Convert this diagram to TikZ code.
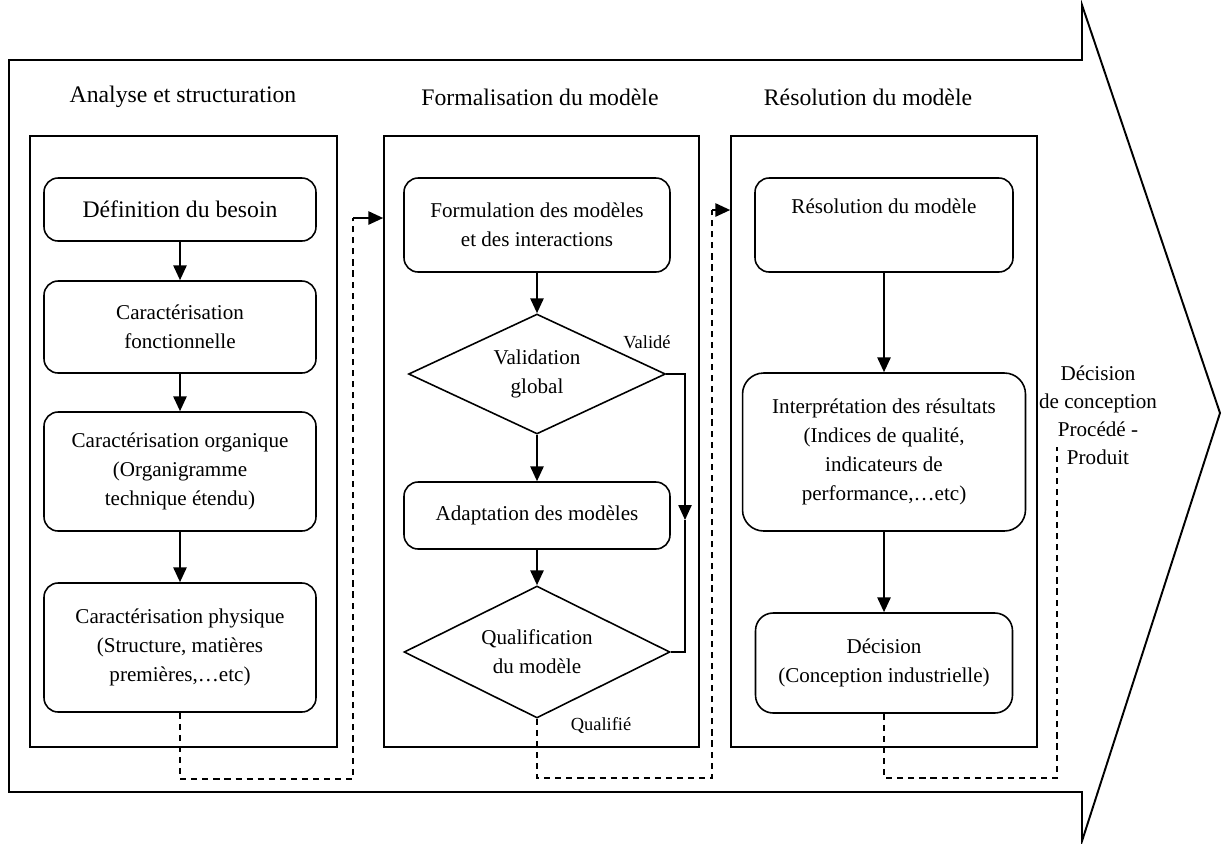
\documentclass[tikz,border=0pt]{standalone}
\usepackage{fontspec}
\setmainfont{Liberation Serif}
\usetikzlibrary{arrows.meta,shapes.geometric}

\begin{document}
\begin{tikzpicture}[x=0.02cm, y=-0.02cm,
    box/.style={draw, rounded corners=8pt, line width=0.9pt, align=center, inner sep=2pt,
      font=\fontsize{12}{16.5}\selectfont},
    choice/.style={draw, diamond, aspect=2, line width=0.9pt, align=center, inner sep=0pt,
      font=\fontsize{12}{16.5}\selectfont},
    panel/.style={draw, line width=0.9pt, minimum width=#1, minimum height=12.22cm},
    title/.style={font=\fontsize{13.5}{16}\selectfont},
    flow/.style={-{Triangle[length=8.5pt,width=7.5pt]}, line width=1.3pt},
    link/.style={dash pattern=on 3.5pt off 2.8pt, line width=0.8pt}]
  \useasboundingbox (0,0) rectangle (1222,843);
  % grande fleche
  \draw[line width=1.1pt] (9,60) -- (1082,60) -- (1082,5) -- (1220,413) -- (1082,841)
    -- (1082,792) -- (9,792) -- cycle;
  % les trois phases
  \node[panel=6.14cm] (p1) at (183.5,441.5) {};
  \node[panel=6.3cm] (p2) at (541.5,441.5) {};
  \node[panel=6.12cm] (p3) at (884,441.5) {};
  \node[title] (t1) at (183,97) {Analyse et structuration};
  \node[title] (t2) at (540,97) {Formalisation du modèle};
  \node[title] (t3) at (868,97) {Résolution du modèle};

  % phase 1
  \node[box, minimum width=5.44cm, minimum height=1.26cm, font=\fontsize{13.5}{16}\selectfont]
    (def) at (180,209.5) {Définition du besoin};
  \node[box, minimum width=5.44cm, minimum height=1.84cm] (fonc) at (180,327)
    {Caractérisation\\fonctionnelle};
  \node[box, minimum width=5.44cm, minimum height=2.38cm] (orga) at (180,471.5)
    {Caractérisation organique\\(Organigramme\\technique étendu)};
  \node[box, minimum width=5.44cm, minimum height=2.58cm] (phys) at (180,647.5)
    {Caractérisation physique\\(Structure, matières\\premières,\dots etc)};
  \draw[flow] (def) -- (fonc);
  \draw[flow] (fonc) -- (orga);
  \draw[flow] (orga) -- (phys);

  % phase 2
  \node[box, minimum width=5.32cm, minimum height=1.88cm] (form) at (537,225)
    {Formulation des modèles\\et des interactions};
  \node[choice, minimum width=5.14cm, minimum height=2.4cm] (valid) at (537,374)
    {Validation\\global};
  \node[box, minimum width=5.32cm, minimum height=1.34cm] (adapt) at (537,515.5)
    {Adaptation des modèles};
  \node[choice, minimum width=5.32cm, minimum height=2.64cm] (qual) at (537,652)
    {Qualification\\du modèle};
  \draw[flow] (form) -- (valid);
  \draw[flow] (valid) -- (adapt);
  \draw[flow] (adapt) -- (qual);
  \coordinate (fb) at (685,520);
  \draw[flow, line width=0.9pt] (valid.east) -| (fb);
  \draw[line width=0.9pt] (fb) |- (qual.east);
  \node[font=\fontsize{10.5}{12}\selectfont] (ok1) at (647,342) {Validé};
  \node[font=\fontsize{10.5}{12}\selectfont] (ok2) at (601,725) {Qualifié};

  % phase 3
  \node[box, minimum width=5.16cm, minimum height=1.88cm] (reso) at (884,225)
    {Résolution du modèle\\\strut};
  \node[box, rounded corners=12pt, minimum width=5.66cm, minimum height=3.16cm] (interp)
    at (884,452) {Interprétation des résultats\\(Indices de qualité,\\indicateurs de\\performance,\dots etc)};
  \node[box, rounded corners=10pt, minimum width=5.14cm, minimum height=2cm] (dec)
    at (884,663) {Décision\\(Conception industrielle)};
  \draw[flow] (reso) -- (interp);
  \draw[flow] (interp) -- (dec);
  \node[align=center, font=\fontsize{12}{16}\selectfont] (dcp) at (1098,415)
    {Décision\\de conception\\Procédé -\\Produit};

  % liaisons entre phases
  \coordinate (j1) at (353,218);
  \coordinate (j2) at (712,210);
  \coordinate (j3) at (1057,447);
  \draw[link] (phys.south) |- (353,779) -- (j1);
  \draw[flow] (j1) -- (j1 -| p2.west);
  \draw[link] (qual.south) |- (712,778) -- (j2);
  \draw[flow] (j2) -- (j2 -| p3.west);
  \draw[link] (dec.south) |- (1057,778) -- (j3);
\end{tikzpicture}
\end{document}
